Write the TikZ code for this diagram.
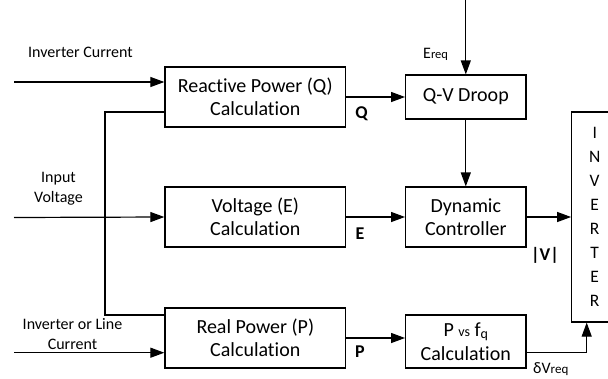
\documentclass[tikz,border=0pt]{standalone}
\usepackage{fontspec}
\setmainfont{Carlito}[Ligatures=NoCommon]
\usetikzlibrary{arrows.meta}
\begin{document}
\begin{tikzpicture}[x=1pt,y=-1pt,
  blk/.style={draw,line width=1.2pt,inner sep=0pt,align=center,font=\fontsize{20}{23.5}\selectfont},
  lbl/.style={inner sep=0pt,align=center,font=\fontsize{16}{19.5}\selectfont},
  blbl/.style={inner sep=0pt,font=\fontsize{18}{22}\selectfont\bfseries},
  conn/.style={line width=1.2pt,-{Triangle[length=14pt,width=10pt]}},
  wire/.style={line width=1.2pt}]
\useasboundingbox (0,0) rectangle (608,378);
\clip (0,0) rectangle (608,378);
% blocks
\node[blk,minimum width=180.7pt,minimum height=60pt] (rq) at (255.3,97) {Reactive Power (Q)\\Calculation};
\node[blk,minimum width=180.7pt,minimum height=60pt] (ve) at (255.3,217) {Voltage (E)\\Calculation};
\node[blk,minimum width=180.7pt,minimum height=60pt] (rp) at (255.3,338) {Real Power (P)\\Calculation};
\node[blk,minimum width=120.3pt,minimum height=44pt] (qv) at (465.8,97) {Q-V Droop};
\node[blk,minimum width=120.3pt,minimum height=60pt] (dc) at (465.8,217) {Dynamic\\Controller};
\node[blk,minimum width=120.3pt,minimum height=53pt] (pf) at (465.8,341.5) {P {\fontsize{14}{16}\selectfont vs} f{\fontsize{14}{16}\selectfont\raisebox{-2pt}{q}}\\Calculation};
\node[blk,minimum width=46pt,minimum height=210pt,font=\fontsize{17.5}{24.1}\selectfont] (inv) at (594.7,217) {I\\N\\V\\E\\R\\T\\E\\R};
% free ends
\coordinate (in1) at (14,82);
\coordinate (in2) at (14,217.5);
\coordinate (in3) at (14,352.7);
\coordinate (top) at (465.8,0);
\coordinate (dv) at (586.7,352.7);
% inputs
\draw[conn] (in1) -- (in1 -| rq.west);
\draw[conn] (in2) -- (ve.west);
\draw[conn] (in3) -- (in3 -| rp.west);
\draw[wire] (rq.west |- 0,112) -- (105,112) -- (105,315) -- (rp.west |- 0,315);
% internal
\draw[conn] (top) -- (qv.north);
\draw[conn] (rq.east |- qv.west) -- (qv.west);
\draw[conn] (qv.south) -- (dc.north);
\draw[conn] (ve.east) -- (dc.west);
\draw[conn] (rp.east) -- (rp.east -| pf.west);
\draw[conn] (dc.east) -- (dc.east -| inv.west);
\draw[wire] (pf.east |- dv) -- (dv);
\draw[conn] (dv) -- (dv |- inv.south);
% labels
\node[lbl] (l1) at (80.5,52) {Inverter Current};
\node[lbl] (l2) at (58.5,188.5) {Input\\Voltage};
\node[lbl] (l3) at (72.5,334) {Inverter or Line\\Current};
\node[lbl,anchor=base west] (l4) at (423,58) {E{\fontsize{12.5}{14}\selectfont req}};
\node[blbl] (lq) at (361.5,113.5) {Q};
\node[blbl] (le) at (360,234) {E};
\node[blbl] (lp) at (360,352) {P};
\node[blbl] (lv) at (545,255) {|V|};
\node[lbl,anchor=base west] (ld) at (533,373) {δV{\fontsize{13}{14}\selectfont req}};
\end{tikzpicture}
\end{document}
